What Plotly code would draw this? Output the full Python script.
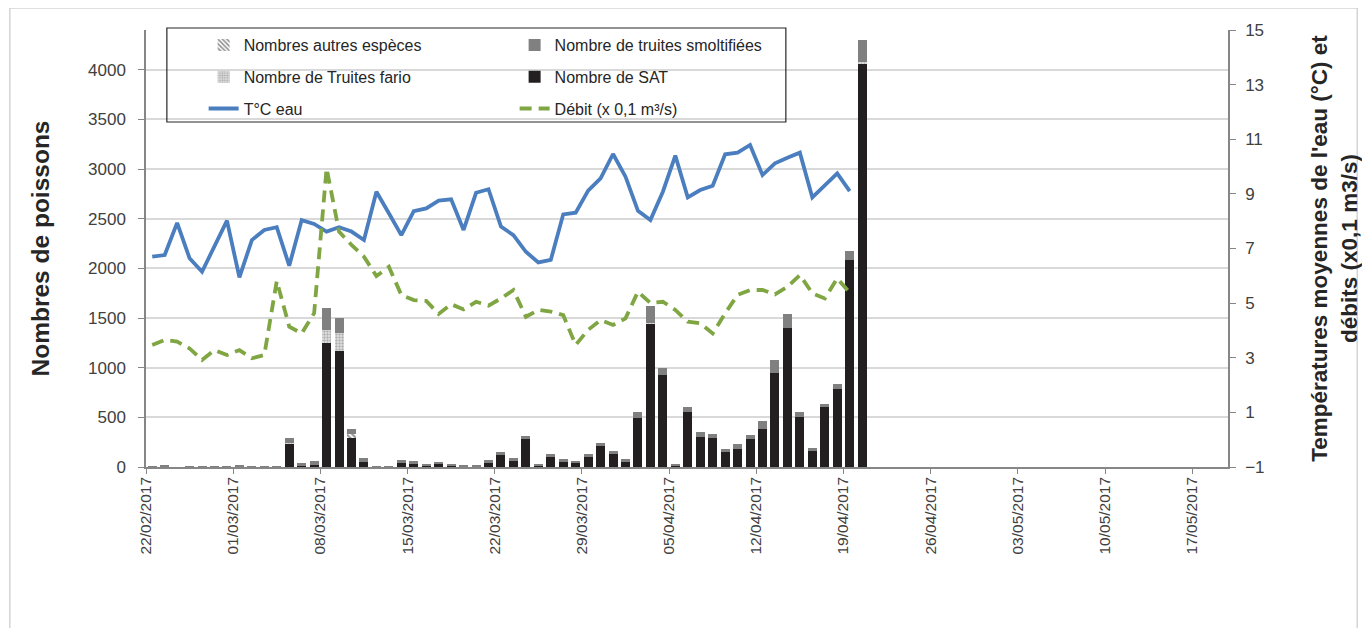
import plotly.graph_objects as go
import pandas as pd

# ---------------- DATA ----------------
bar_dates = pd.date_range("2017-02-22", "2017-04-20", freq="D").strftime("%Y-%m-%d").tolist()
line_dates = bar_dates[:-1]  # lines stop on 19/04

sat = [0, 0, 0, 0, 0, 0, 0, 0, 0, 0, 0, 235, 10, 18, 1250, 1165, 295, 47, 0, 0,
       45, 30, 13, 27, 13, 5, 5, 45, 120, 63, 282, 17, 97, 54, 40, 104, 214, 134, 50, 492,
       1444, 931, 13, 553, 305, 295, 151, 178, 285, 385, 948, 1404, 506, 161, 606, 781, 2087, 4067]
fario = [0, 0, 0, 0, 0, 0, 0, 0, 0, 0, 0, 10, 0, 0, 130, 185, 0, 0, 0, 0,
         0, 0, 0, 0, 0, 0, 0, 0, 0, 0, 0, 0, 0, 0, 0, 0, 0, 0, 0, 0,
         5, 0, 0, 0, 0, 0, 0, 0, 0, 0, 0, 0, 0, 0, 0, 0, 0, 10]
autres = [0, 0, 0, 0, 0, 0, 0, 0, 0, 0, 0, 0, 0, 0, 0, 0, 35, 0, 0, 0,
          0, 0, 0, 0, 0, 0, 0, 0, 0, 0, 0, 0, 0, 0, 0, 0, 0, 0, 0, 0,
          0, 0, 0, 0, 0, 0, 0, 0, 0, 0, 0, 0, 0, 0, 0, 0, 0, 0]
smolt = [5, 12, 0, 10, 10, 6, 8, 15, 3, 10, 8, 45, 30, 42, 225, 155, 55, 40, 10, 8,
         28, 32, 20, 22, 20, 18, 18, 27, 30, 24, 30, 13, 33, 26, 24, 26, 24, 27, 30, 64,
         170, 67, 17, 50, 47, 33, 30, 56, 37, 77, 127, 134, 44, 27, 27, 53, 84, 225]

temp = [6.70, 6.76, 7.94, 6.64, 6.15, 7.07, 8.02, 5.94, 7.31, 7.68, 7.78, 6.37, 8.04, 7.90,
        7.62, 7.78, 7.62, 7.31, 9.08, 8.29, 7.49, 8.37, 8.47, 8.75, 8.80, 7.68, 9.04, 9.17,
        7.80, 7.49, 6.88, 6.49, 6.58, 8.25, 8.31, 9.12, 9.57, 10.46, 9.63, 8.38, 8.04, 9.08,
        10.40, 8.87, 9.14, 9.30, 10.45, 10.51, 10.79, 9.69, 10.12, 10.32, 10.51, 8.87, 9.32,
        9.75, 9.10]
debit = [3.47, 3.65, 3.59, 3.34, 2.92, 3.28, 3.10, 3.28, 2.98, 3.10, 5.81, 4.14, 3.89, 4.63,
         9.94, 7.62, 7.13, 6.70, 5.99, 6.33, 5.30, 5.11, 5.08, 4.60, 4.96, 4.77, 5.05, 4.91,
         5.17, 5.48, 4.50, 4.75, 4.69, 4.56, 3.47, 4.02, 4.38, 4.20, 4.44, 5.42, 5.00, 5.05,
         4.75, 4.32, 4.26, 3.89, 4.63, 5.30, 5.48, 5.48, 5.32, 5.60, 6.03, 5.36, 5.17, 5.91,
         5.38]

left_ticks = [0, 500, 1000, 1500, 2000, 2500, 3000, 3500, 4000]
right_ticks = [-1, 1, 3, 5, 7, 9, 11, 13, 15]

# ---------------- LAYOUT HELPERS ----------------
OFF = 8  # page body margin
W, H = 1370 - OFF, 628 - OFF
PL, PR, PT, PB = 146, 1235, 30, 467  # target screen pixels of the plot area
def px(x):
    return (x - PL) / (PR - PL)
def py(y):
    return (PB - y) / (PB - PT)

DAY = 86400000
FONT = "Liberation Sans, Arial, sans-serif"
TXT = "#3a3a3a"

fig = go.Figure()
common_bar = dict(x=bar_dates, xperiod=DAY, xperiodalignment="middle", width=0.72 * DAY)

fig.add_trace(go.Bar(name="Nombre de SAT", y=sat, marker=dict(color="#231f20", line=dict(width=0)),
                     legend="legend2", legendrank=2, legendgroup="g5", **common_bar))
fig.add_trace(go.Bar(name="Nombre de Truites fario", y=fario,
                     marker=dict(color="white", line=dict(width=0),
                                 pattern=dict(shape=".", fgcolor="#7a7a7a", bgcolor="#e6e6e6", size=3, solidity=0.5)),
                     legend="legend", legendrank=2, legendgroup="g2", **common_bar))
fig.add_trace(go.Bar(name="Nombres autres espèces", y=autres,
                     marker=dict(color="white", line=dict(width=0),
                                 pattern=dict(shape="\\", fgcolor="#231f20", bgcolor="white", size=4, solidity=0.5)),
                     legend="legend", legendrank=1, legendgroup="g1", **common_bar))
fig.add_trace(go.Bar(name="Nombre de truites smoltifiées", y=smolt, marker=dict(color="#808080", line=dict(width=0)),
                     legend="legend2", legendrank=1, legendgroup="g4", **common_bar))

fig.add_trace(go.Scatter(name="T°C eau", x=line_dates, y=temp, yaxis="y2", mode="lines",
                         xperiod=DAY, xperiodalignment="middle",
                         line=dict(color="#4a7ebf", width=3.8),
                         legend="legend", legendrank=3, legendgroup="g3"))
fig.add_trace(go.Scatter(name="Débit (x 0,1 m³/s)", x=line_dates, y=debit, yaxis="y2", mode="lines",
                         xperiod=DAY, xperiodalignment="middle",
                         line=dict(color="#80a644", width=3.8, dash="12px,7px"),
                         legend="legend2", legendrank=3, legendgroup="g6"))

legend_common = dict(font=dict(family=FONT, size=16, color="#262626"), bgcolor="rgba(0,0,0,0)",
                     borderwidth=0, orientation="v", traceorder="grouped", tracegroupgap=8,
                     xanchor="left", yanchor="top", itemclick=False)

fig.update_layout(
    width=W, height=H,
    margin=dict(l=PL - OFF, r=W - (PR - OFF), t=PT - OFF, b=H - (PB - OFF)),
    paper_bgcolor="white", plot_bgcolor="white",
    barmode="stack", bargap=0.28,
    font=dict(family=FONT, color=TXT),
    legend=dict(x=px(204), y=py(28), **legend_common),
    legend2=dict(x=px(517), y=py(28), **legend_common),
    xaxis=dict(
        type="date",
        range=["2017-02-22", "2017-05-19 21:00"],
        tick0="2017-02-22", dtick=7 * DAY, tickformat="%d/%m/%Y", tickangle=-90,
        ticks="outside", ticklen=5, tickcolor="#868686", ticklabelstandoff=-3,
        showline=True, linecolor="#868686", linewidth=1.5,
        showgrid=False, zeroline=False,
        tickfont=dict(family=FONT, size=15.5, color="#404040"),
    ),
    yaxis=dict(
        range=[0, 4400], tickvals=left_ticks,
        ticks="outside", ticklen=6, tickcolor="#868686", ticklabelstandoff=9,
        showline=True, linecolor="#868686", linewidth=1.5,
        showgrid=True, gridcolor="#d9d9d9", gridwidth=1.5, zeroline=False,
        tickfont=dict(family=FONT, size=17, color="#404040"),
        title=dict(text="<b>Nombres de poissons</b>", standoff=31,
                   font=dict(family=FONT, size=24.5, color="#262626")),
    ),
    yaxis2=dict(
        overlaying="y", side="right", range=[-1, 15], tickvals=right_ticks,
        ticks="outside", ticklen=6, tickcolor="#868686", ticklabelstandoff=6,
        showline=True, linecolor="#868686", linewidth=1.5,
        showgrid=False, zeroline=False,
        tickfont=dict(family=FONT, size=17, color="#404040"),
        title=dict(text="<b>Températures moyennes de l'eau (°C) et<br>débits (x0,1 m3/s)</b>", standoff=48,
                   font=dict(family=FONT, size=22.5, color="#262626")),
    ),
    shapes=[
        dict(type="rect", xref="paper", yref="paper", x0=px(167), x1=px(790), y0=py(122), y1=py(28),
             line=dict(color="#262626", width=1.2), fillcolor="rgba(0,0,0,0)", layer="above"),
        dict(type="rect", xref="paper", yref="paper", x0=px(9), x1=px(1365), y0=py(660), y1=py(8),
             line=dict(color="#bfbfbf", width=1), fillcolor="rgba(0,0,0,0)", layer="below"),
    ],
)

fig.write_html("out.html")
